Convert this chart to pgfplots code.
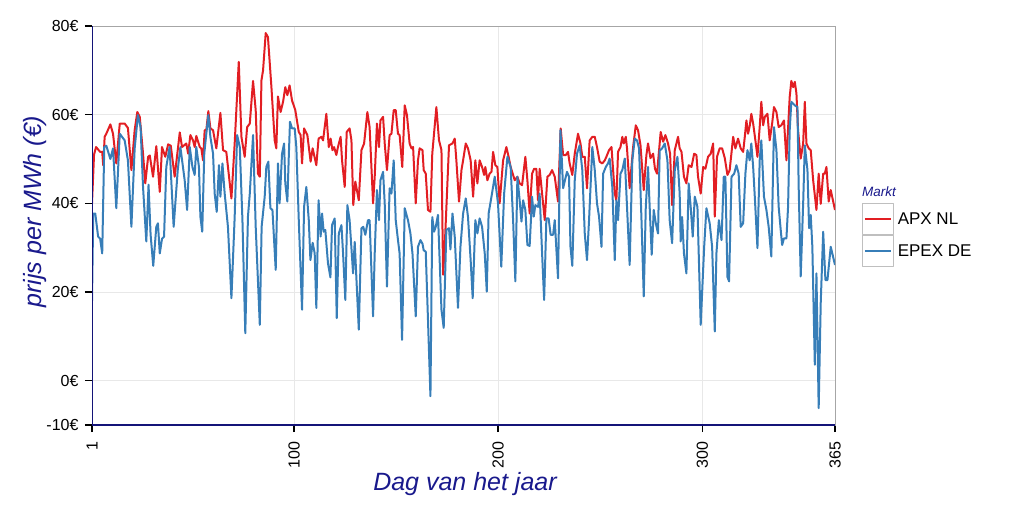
\documentclass[border=0pt]{standalone}
\usepackage{fontspec}
\setmainfont{Liberation Sans}
\usepackage{pgfplots}
\pgfplotsset{compat=1.18}

\definecolor{apxred}{RGB}{226,30,35}
\definecolor{epexblue}{RGB}{55,126,184}
\definecolor{asnavy}{RGB}{20,20,120}
\definecolor{lblnavy}{RGB}{25,25,140}

\begin{document}
\begin{tikzpicture}
\path[use as bounding box] (0pt,0pt) rectangle (1024pt,512pt);
\begin{axis}[
  at={(92pt,87pt)}, anchor=south west,
  scale only axis, width=743pt, height=399pt,
  xmin=1, xmax=365, ymin=-10, ymax=80,
  xtick={1,100,200,300,365}, xticklabels={1,100,200,300,365},
  ytick={-10,0,20,40,60,80}, yticklabels={-10€,0€,20€,40€,60€,80€},
  tick pos=left, tick align=outside, major tick length=7pt,
  tick style={black, line width=1.5pt},
  tick label style={font=\fontsize{16}{19}\selectfont, black},
  xticklabel style={yshift=-6pt, rotate=90, anchor=east},
  yticklabel style={xshift=-3pt},
  grid=major, major grid style={black!9, line width=1pt},
  axis line style={black!35, line width=1pt},
  xlabel={Dag van het jaar},
  xlabel style={font=\fontsize{25}{30}\selectfont\itshape, text=lblnavy,
    at={(axis description cs:0.502,-0.148)}, anchor=center},
  ylabel={prijs per MWh (€)},
  ylabel style={font=\fontsize{25}{30}\selectfont\itshape, text=lblnavy,
    at={(axis description cs:-0.077,0.535)}, anchor=center, rotate=0},
  legend style={draw=none, fill=none, inner sep=0pt, outer sep=0pt,
    at={(axis description cs:1.036,0.556)}, anchor=north west,
    font=\fontsize{17}{20}\selectfont, row sep=0pt, column sep=4pt,
    nodes={inner sep=0pt}},
  legend cell align=left,
  legend image code/.code={
    \draw[black!25, line width=1pt, solid] (0pt,-15.5pt) rectangle (31pt,15.5pt);
    \draw[#1, line width=1.5pt] (2.5pt,0pt) -- (28.5pt,0pt);
  },
]
% APX NL
\addplot[apxred, line width=2pt, line join=round] coordinates {
(1,40)(2,51)(3,52.7)(5,51.6)(6,51.6)(6.5,48.6)(7.2,55)(8,55.7)(10,57.8)(11.3,55.7)(12.9,49)(14.6,58)(17,58)(18.6,57)(20.3,47.5)(21.9,56.5)(23.2,60.6)(24.4,59.5)(26,51.2)(27.1,44.5)(28.5,50.5)(29.3,50.8)(30.9,46)(32.5,52.9)(34.2,42.6)(35.3,52.7)(36.9,50.5)(38.3,53.3)(39.6,53)(41.5,46)(44,56)(45.1,52.7)
(47.2,53.5)(48.1,51.2)(49.2,55.4)(50.5,54.2)(51.3,52.7)(52.1,55.2)(53.8,52.7)(54.6,52.3)(55.4,49.7)(56.2,56.5)(57,56.5)(58,60.8)(59,56.9)(60.3,56.5)(61.9,52.4)(63.9,60.4)(65.2,52)(66.8,51.6)(69.3,41.1)(70.9,53.5)(72.9,71.9)(74.2,55)(75.8,50.5)(77,57.2)(78.3,58)(79.9,67.6)(81.2,61)(82.3,46.7)(83.2,46)(84,67.7)(84.8,70)(86.1,78.4)(87.2,77.5)(88.9,66.2)(90.5,54.2)(91.3,52.4)(92.1,64.1)
(93.4,60.6)(94.6,62.9)(95.7,66.2)(96.7,64.4)(97.8,66.6)(99,63.2)(100.6,61)(102.3,56.1)(103.2,55.4)(103.9,49)(104.9,56.9)(106.5,55.4)(108.1,49.4)(109.1,52.4)(110.9,48.6)(112,54.6)(113.4,55)(114.2,54.2)(115.8,60.2)(117,52.7)(117.9,54.6)(118.8,52)(119.6,52.7)(120.7,50.9)(121.5,52.7)(122.8,55)(123.5,49.7)(124.8,43.7)(125.8,56.1)(127.2,56.9)(128.1,54.2)(129,39.6)(130,44.9)(131.7,40.7)(133,52)(134.3,53.5)(135.9,60.6)(137,57.2)(138.7,40)
(139.5,46)(140.6,58)(141.6,52.7)(142.3,58.7)(143.6,59.5)(144.4,53.5)(145.5,47.5)(146.8,55.4)(147.7,55.7)(148.8,61)(149.8,61)(150.9,55.7)(151.7,55.4)(153,48.2)(154.2,62.1)(155.3,59.9)(156.6,53.5)(157.5,52.4)(158.3,52.7)(159.6,40)(160.7,49.7)(161.5,52.4)(162.9,52)(163.5,47.5)(164.5,46.7)(165.6,38.5)(166.8,38.1)(167.7,51.2)(169.7,61.7)(171,54.2)(172.2,52)(173,23.9)(173.8,30.2)(175.9,53.1)(177.6,53.5)(178.7,54.6)(179.5,49.7)(180.8,40.4)(182,47.5)(182.8,49.7)(184.1,53.5)(185.2,52.4)
(186.5,49.7)(187.7,41.5)(188.8,49.7)(189.8,44.5)(190.9,49.7)(192.1,48.2)(193.1,46.4)(193.7,48.2)(194.7,45.2)(195.8,46.7)(196.7,47.1)(197.5,51.6)(198.6,48.6)(199.6,48.2)(200.7,40)(202.4,49.7)(204,52.7)(205.1,50.5)(206.1,48.2)(208.1,45.2)(209.4,46)(210.5,44.5)(211.7,44.1)(213.3,50.5)(214.3,45.2)(215.4,37.7)(216.6,46.7)(217.6,47.8)(218.7,47.8)(219.5,40.7)(220.3,47.8)(221.5,42.2)(222.8,36.2)(224.1,46)(225.2,46.4)(226.4,47.5)(227.7,46)(229.3,40.4)(230.6,56.9)(231.8,50.9)
(233.1,50.9)(234.2,51.6)(235,49)(236.3,46.4)(237.5,51.2)(239.1,55.7)(240.3,53.5)(241.2,50.5)(242.4,50.5)(243.5,43.4)(244.8,54.2)(246.1,55)(247.3,55)(248.4,52.7)(249.7,49.4)(251,49)(252.2,49.7)(253,50.5)(254.3,52)(255.5,52.7)(257.1,42.2)(257.9,40.7)(258.7,51.6)(259.9,52.7)(260.8,55)(261.5,53.5)(262.5,55)(263.1,52.4)(264.4,43.4)(266.1,52.7)(267.4,57.6)(268.5,56.5)(269.7,53.1)(271.3,43)(272.6,50.9)(273.4,53.5)(274.6,50.2)(275.9,51.2)(276.8,47.8)(277.8,46.7)
(279.6,56.1)(280.8,53.9)(281.9,55.4)(283.2,53.5)(284.2,51.2)(285.2,39.6)(286.5,52)(288.1,55)(288.9,52.4)(289.8,51.6)(291,46)(292.2,44.5)(293.3,48.6)(294.7,48.2)(296,51.2)(297.1,50.9)(297.9,46)(299.2,42.2)(300.4,48.2)(301.5,47.8)(302.8,50.5)(304.1,51.2)(305.3,53.5)(306.1,37)(307.2,50.5)(308.5,52.4)(309.7,52.4)(311,50.2)(312.3,46.4)(313.4,47.5)(315.1,55)(316.2,52.4)(317.5,54.6)(318.8,52.4)(320,51.6)(320.8,55)(321.6,58.7)(322.4,55.7)
(323.2,57.4)(324,60.2)(324.9,58)(326,54.2)(327,50.5)(328.1,57.2)(328.9,62.9)(329.8,57.6)(330.6,59.5)(331.9,60.2)(333,54.2)(334.2,58)(335.1,61.7)(336.3,60.6)(337.4,57.2)(338.7,57.6)(340,58.7)(341.2,49.7)(342.8,64)(343.6,67.6)(344.5,66.2)(345.3,67.4)(346.1,64.8)(346.9,56.5)(348.2,50.1)(349.4,53.5)(350.2,62.9)(351,53.5)(352.1,52.4)(353.1,52)(354.3,45.2)(355.9,38.5)(357,46.7)(358,39.9)(359.2,46.7)(360,46.7)(360.8,48.2)(361.9,40.4)(362.9,43)(365,38.5)
};
\addlegendentry{APX NL}
% EPEX DE
\addplot[epexblue, line width=2pt, line join=round] coordinates {
(1,18)(1.6,37.7)(2.6,37.7)(4,32.5)(5,32)(6,28.7)(7,52.7)(8,53)(10,50)(11.3,52.4)(12.9,38.9)(14.6,55.7)(17,54.2)(18.6,49.7)(20.3,34.7)(21.9,52.4)(23.5,59.9)(24.8,57.2)(26,43.7)(27.6,31.4)(28.7,44.2)(29.7,33)(31,25.9)(32.5,34.7)(33.3,35.5)(34.2,28.7)(35.3,32)(36.3,32.5)(37.4,48.2)(39,52.7)(41,34.7)(43,47.5)(44.3,52.7)
(46.4,45.2)(47.6,38.5)(48.9,52.7)(50.2,48.2)(51.3,46.4)(52.1,52.7)(53.4,48.2)(54.1,37)(55,33.6)(56,51.2)(57,55.7)(58,59.9)(59,55)(60.3,51.2)(61.1,42.2)(62.1,38.1)(63.2,48.6)(63.9,41.5)(64.9,49)(66,42.2)(67.6,34.7)(69.3,18.6)(70.9,37)(72.1,55.4)(73.4,52.7)(74.7,36.2)(76.1,10.7)(77.4,37)(78.3,42.2)(79.9,55.4)(81.2,34.7)(83.2,12.6)(84.1,34.7)(85.6,41.5)(86.4,48.2)(87.4,49.4)(88.4,38.9)(89.4,38.5)(91,25)(92.1,49)
(92.9,40)(94.1,51.2)(95.1,53.5)(95.7,44.5)(96.7,40.4)(97.4,50.5)(98,58.4)(99,56.9)(100.3,56.9)(101.1,52.7)(102.3,36.2)(103.9,16)(104.9,39.2)(106,43.7)(107.2,36.2)(108,27.2)(109.1,31.1)(110.1,28.7)(110.9,16.4)(112,40.7)(113,32.5)(113.7,37.7)(114.5,33.6)(115.3,34)(116.6,26.5)(117.8,23.3)(118.6,35.1)(119.9,36.6)(120.9,14.1)(121.9,33.2)(123.2,35.1)(124,28.7)(125.1,18.2)(126.1,39.6)(127.2,36.2)(128.9,24.2)(129.7,31.3)(131.7,11.5)(133,34.4)(133.9,34.7)(134.9,32.9)(136.2,36.2)(137,36.2)(138.7,14.5)
(139.5,28.7)(140.6,43)(141.6,36.2)(142.3,45.2)(143.6,47.1)(144.4,40)(145.5,21.2)(146.8,43.4)(147.7,42.2)(148.8,49.7)(149.8,36.2)(150.9,31.7)(151.7,28.7)(152.9,9.2)(154.2,38.9)(155.8,36.2)(157,33.2)(158,28.7)(159.6,14.5)(160.7,30.2)(161.9,31.7)(162.9,30.9)(163.5,29.4)(164.5,29.1)(165.6,13.7)(166.8,-3.5)(167.7,36.9)(168.6,33.6)(169.4,34.7)(170.5,37.4)(172.2,16)(173.3,11.9)(174.6,34)(175.9,34.4)(176.6,29.6)(177.6,37.7)(178.7,32.5)(180.3,16.4)(181.5,30.2)(182.8,37.7)(184.1,41.1)(185.2,36.9)
(186.5,27.2)(187.5,18.6)(188.8,36.2)(189.8,33.2)(190.9,36.6)(192.1,34.7)(193.4,28.7)(194.4,20.1)(195.3,37.7)(196.7,41.5)(198.3,46)(199.9,40)(201.5,25.7)(202.9,42.2)(204.5,50.5)(206.1,48.2)(207.3,36.2)(208.4,22.4)(209.4,46)(210.5,40.7)(211.4,35.9)(212.2,40.7)(213.3,38.5)(214.3,30.6)(215.4,30.4)(216.6,41.5)(217.4,37)(218.2,39.6)(219.5,39.2)(220.3,42.2)(221.5,28.7)(222.5,18.2)(223.6,36.6)(224.7,36.6)(225.7,32.9)(226.9,32.9)(227.7,36.2)(229.3,23.1)(230.5,56.5)(231.8,43.4)(232.7,45.2)
(233.7,47.1)(234.7,46)(235.4,30.2)(236.3,25.9)(237.5,45.2)(238.6,51.2)(239.9,53.1)(241.2,47.5)(242.4,33.2)(243.5,27.2)(244.5,36.2)(246.1,52.7)(247.3,47.5)(248.4,40)(249.4,37)(250.6,30.2)(251.4,46.7)(252.7,48.2)(253.8,49)(254.6,50.1)(255.9,43.7)(257.1,27.2)(257.9,40.7)(258.7,36.2)(259.9,46.7)(260.8,47.5)(262,50.1)(262.8,42.3)(264.4,26.1)(265.7,49.7)(266.9,54.6)(268,54.2)(269,52.4)(270.2,36.2)(271.3,19)(272.3,39.2)(273.4,48.2)(274.2,39.2)(275.2,28.4)(276.2,38.5)(277.2,35.5)(278.3,33.2)
(279.1,51.9)(280.3,52.4)(281.6,53.5)(282.9,49.7)(284,36.2)(285.2,31)(286.5,47.5)(287.8,50.5)(288.9,42.2)(289.4,31.4)(290.1,36.9)(291,28.7)(292.2,24.2)(293.3,44.5)(294.3,39.2)(295.3,32.5)(296.3,41.5)(297.6,39.2)(299.2,12.6)(300.9,30.2)(302,38.9)(303.6,35.5)(304.8,30.2)(306.1,11.1)(306.9,28.7)(308.1,36.2)(309.4,31.7)(310.5,46)(311.3,46)(312.3,23.4)(313.1,22.4)(314.3,46)(315.6,46.7)(316.7,48.6)(317.8,46.7)(318.8,34.7)(320,35.5)(321.1,46.7)(322.1,52)
(323.2,49.7)(324,53.5)(324.9,48.2)(325.7,41.5)(327,29.9)(328.1,49.7)(328.9,54.2)(330.2,41.5)(331.4,38.5)(332.5,34.7)(333.8,28)(335.1,57.2)(336.3,52)(337.4,39.2)(338.4,34)(339.1,30.6)(340,32.1)(341.2,32.1)(342,39.2)(342.8,56.5)(343.6,62.9)(345.3,62.1)(346.6,61.7)(347.2,43.7)(348.2,23.5)(349.4,40)(350.2,53.1)(351.5,47.5)(352.3,34.4)(353.1,37.4)(353.9,30.2)(355.1,3.6)(355.9,24.2)(357,-6.2)(358,17.5)(359.2,33.6)(360.3,22.7)(361.3,22.7)(362.9,30.2)(365,26.1)
};
\addlegendentry{EPEX DE}
% navy left and bottom axis lines
\draw[asnavy, line width=2pt] (rel axis cs:0,1) -- (rel axis cs:0,0) -- (rel axis cs:1,0);
\end{axis}
\node[anchor=base west, inner sep=0pt, text=lblnavy, font=\fontsize{13.5}{16}\selectfont\itshape]
  at (862pt,315pt) {Markt};
\end{tikzpicture}
\end{document}
